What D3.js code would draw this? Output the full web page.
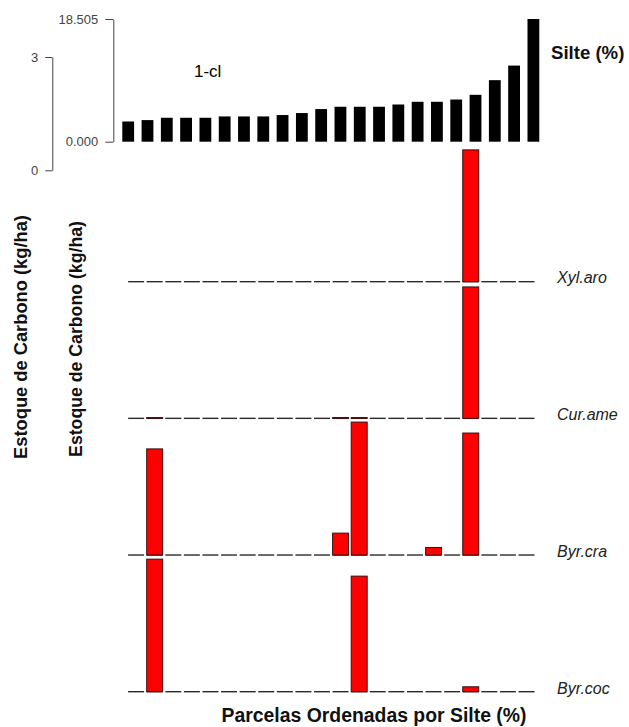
<!DOCTYPE html>
<html>
<head>
<meta charset="utf-8">
<script src="https://cdn.jsdelivr.net/npm/d3@7"></script>
<style>
  body { margin: 0; background: #fff; }
  svg { display: block; font-family: 'Liberation Sans', Arial, sans-serif; }
</style>
</head>
<body>
<svg id="chart" width="629" height="727"></svg>
<script>
// parcelas ordenadas por silte
const parcelas = [1, 2, 3, 4, 5, 6, 7, 8, 9, 10, 11, 12, 13, 14, 15, 16, 17, 18, 19, 20, 21, 22]
const silte = [3.05, 3.26, 3.61, 3.61, 3.61, 3.81, 3.81, 3.81, 4.02, 4.32, 4.92,
    5.27, 5.27, 5.27, 5.61, 6.02, 6.02, 6.36, 7.07, 9.28, 11.48, 18.505]
const silteTicks = [0, 18.505]

const especies = ['Xyl.aro', 'Cur.ame', 'Byr.cra', 'Byr.coc']
const xylAro = [0, 0, 0, 0, 0, 0, 0, 0, 0, 0, 0, 0, 0, 0, 0, 0, 0, 0, 3.49, 0, 0, 0]
const curAme = [0, 0.02, 0, 0, 0, 0, 0, 0, 0, 0, 0, 0.02, 0.02, 0, 0, 0, 0, 0, 3.48, 0, 0, 0]
const byrCra = [0, 2.81, 0, 0, 0, 0, 0, 0, 0, 0, 0, 0.58, 3.52, 0, 0, 0, 0.20, 0, 3.23, 0, 0, 0]
const byrCoc = [0, 3.51, 0, 0, 0, 0, 0, 0, 0, 0, 0, 0, 3.06, 0, 0, 0, 0, 0, 0.13, 0, 0, 0]
const estoque = [xylAro, curAme, byrCra, byrCoc]
const escalaTicks = [0, 3]

const svg = d3.select('#chart')

// top panel: silte
const xTop = d3.scaleBand()
    .domain(parcelas)
    .range([122.3, 539.3])
    .paddingInner(0.388)
    .paddingOuter(0)

const ySilte = d3.scaleLinear()
    .domain([0, 18.505])
    .range([141.7, 19])

svg.append('g')
    .selectAll('rect')
    .data(silte)
    .join('rect')
    .attr('x', (d, i) => xTop(parcelas[i]))
    .attr('y', d => ySilte(d))
    .attr('width', xTop.bandwidth())
    .attr('height', d => ySilte(0) - ySilte(d))
    .attr('fill', '#000')

const axisTop = svg.append('g')
    .attr('transform', 'translate(113.3,0)')
    .call(d3.axisLeft(ySilte)
        .tickValues(silteTicks)
        .tickFormat(d3.format('.3f'))
        .tickSizeInner(8)
        .tickSizeOuter(0)
        .tickPadding(7))

axisTop.selectAll('text')
    .attr('font-size', 13)
    .attr('fill', '#444')
    .attr('font-family', 'Liberation Sans, Arial, sans-serif')
axisTop.selectAll('path, line').attr('stroke', '#444')

svg.append('text')
    .attr('x', 194)
    .attr('y', 76.7)
    .attr('font-size', 17)
    .text('1-cl')

svg.append('text')
    .attr('x', 551)
    .attr('y', 59.3)
    .attr('font-size', 18.6)
    .attr('font-weight', 'bold')
    .attr('fill', '#111')
    .text('Silte (%)')

// scale bar for carbon stock
const yc = d3.scaleLinear()
    .domain([0, 3])
    .range([0, 113.3])

const yEscala = d3.scaleLinear()
    .domain([0, 3])
    .range([170.3, 57])

const axisEsc = svg.append('g')
    .attr('transform', 'translate(52.3,0)')
    .call(d3.axisLeft(yEscala)
        .tickValues(escalaTicks)
        .tickFormat(d3.format('d'))
        .tickSizeInner(7)
        .tickSizeOuter(0)
        .tickPadding(7))

axisEsc.selectAll('text')
    .attr('font-size', 13)
    .attr('fill', '#444')
    .attr('font-family', 'Liberation Sans, Arial, sans-serif')
axisEsc.selectAll('path, line').attr('stroke', '#444')

// species panels
const xLow = d3.scaleBand()
    .domain(parcelas)
    .range([128.1, 534.5])
    .paddingInner(0.14)
    .paddingOuter(0)

const panel = d3.scaleBand()
    .domain(especies)
    .range([145, 691.7])

especies.forEach((sp, k) => {
    const base = panel(sp) + panel.bandwidth()
    const g = svg.append('g')

    g.selectAll('line')
        .data(parcelas)
        .join('line')
        .attr('x1', d => xLow(d))
        .attr('x2', d => xLow(d) + xLow.bandwidth())
        .attr('y1', base)
        .attr('y2', base)
        .attr('stroke', '#2a2a2a')
        .attr('stroke-width', 1.4)

    g.selectAll('rect')
        .data(estoque[k].map((v, i) => ({ v, p: parcelas[i] })).filter(d => d.v > 0))
        .join('rect')
        .attr('x', d => xLow(d.p))
        .attr('y', d => base - yc(d.v))
        .attr('width', xLow.bandwidth())
        .attr('height', d => yc(d.v))
        .attr('fill', '#ff0000')
        .attr('stroke', '#3a1010')
        .attr('stroke-width', 1)

    svg.append('text')
        .attr('x', 557)
        .attr('y', base + 1.8)
        .attr('font-size', 16)
        .attr('font-style', 'italic')
        .attr('fill', '#222')
        .text(sp)
})

// axis titles
svg.append('text')
    .attr('transform', 'translate(27.3,337) rotate(-90)')
    .attr('text-anchor', 'middle')
    .attr('font-size', 18.3)
    .attr('font-weight', 'bold')
    .attr('fill', '#111')
    .text('Estoque de Carbono (kg/ha)')

svg.append('text')
    .attr('transform', 'translate(82.3,339) rotate(-90)')
    .attr('text-anchor', 'middle')
    .attr('font-size', 17.7)
    .attr('font-weight', 'bold')
    .attr('fill', '#111')
    .text('Estoque de Carbono (kg/ha)')

svg.append('text')
    .attr('x', 374)
    .attr('y', 721.7)
    .attr('text-anchor', 'middle')
    .attr('font-size', 19.4)
    .attr('font-weight', 'bold')
    .attr('fill', '#111')
    .text('Parcelas Ordenadas por Silte (%)')
</script>
</body>
</html>
